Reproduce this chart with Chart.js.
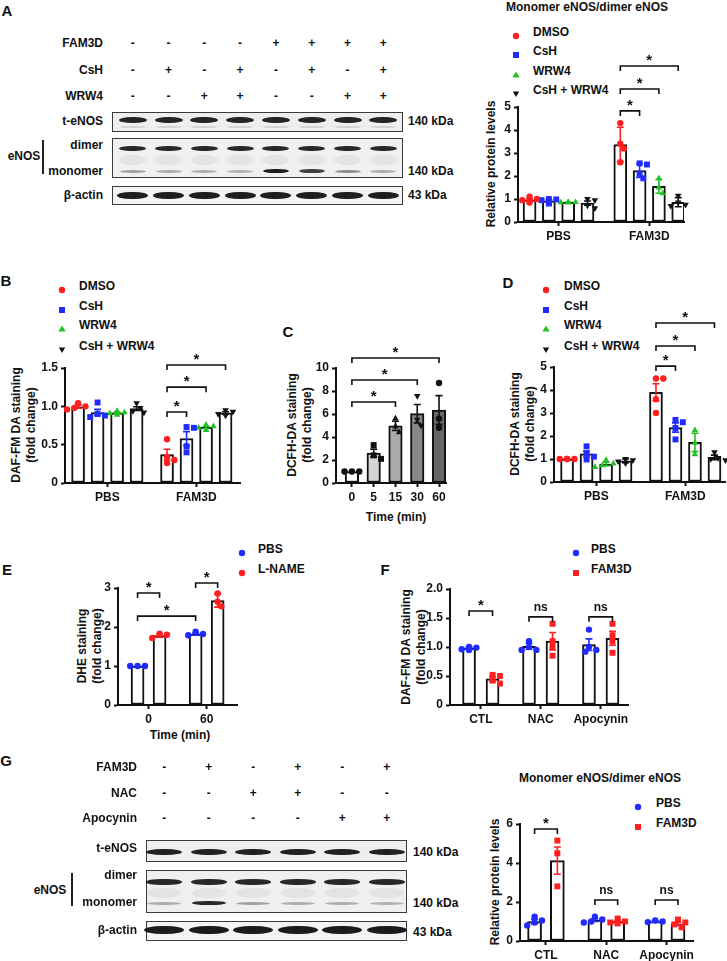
<!DOCTYPE html>
<html>
<head>
<meta charset="utf-8">
<script src="https://cdn.jsdelivr.net/npm/chart.js@4.4.1/dist/chart.umd.min.js"></script>
<style>
  body { margin: 0; background: #fff; }
  #fig { position: relative; width: 727px; height: 961px; overflow: hidden; background: #fff;
         font-family: Arial, 'Liberation Sans', Helvetica, sans-serif; font-weight: bold; color: #111; }
  .t { position: absolute; white-space: nowrap; line-height: 1; }
  .rt { position: absolute; white-space: nowrap; text-align: center; line-height: 15px; }
  canvas { position: absolute; }
  .box { position: absolute; box-sizing: border-box; border: 1.5px solid #3a3a3a; }
  .band { position: absolute; border-radius: 45% / 50%; filter: blur(0.6px); }
</style>
</head>
<body>
<div id="fig"></div>
<script>
// ---------- data ----------

// A  monomer / dimer eNOS
const aGroups = ['PBS', 'FAM3D'];
const aSeries = ['DMSO', 'CsH', 'WRW4', 'CsH + WRW4'];
const aMeans = [[0.96, 3.37], [0.92, 2.24], [0.86, 1.55], [0.82, 0.86]];
const aErr = [[0.05, 0.75], [0.05, 0.3], [0.01, 0.3], [0.09, 0.2]];
const aPts = [
  [[1.1, 1.0, 0.95, 0.9, 0.85], [4.3, 3.4, 3.2, 2.6]],
  [[1.0, 0.98, 0.95, 0.85, 0.8], [2.55, 2.5, 2.1, 1.9]],
  [[0.87, 0.86, 0.85, 0.84], [1.9, 1.5, 1.25]],
  [[1.0, 0.95, 0.72, 0.6], [1.15, 0.85, 0.75, 0.7]]
];
const aLaneFAM3D = ['-', '-', '-', '-', '+', '+', '+', '+'];
const aLaneCsH = ['-', '+', '-', '+', '-', '+', '-', '+'];
const aLaneWRW4 = ['-', '-', '+', '+', '-', '-', '+', '+'];
const aMonomerBand = [0.35, 0.3, 0.3, 0.28, 0.95, 0.8, 0.45, 0.3];

// B  DAF-FM DA
const bGroups = ['PBS', 'FAM3D'];
const bMeans = [[0.995, 0.37], [0.92, 0.58], [0.915, 0.725], [0.97, 0.915]];
const bErr = [[0.02, 0.07], [0.04, 0.09], [0.01, 0.015], [0.025, 0.015]];
const bPts = [
  [[1.04, 1.0, 0.98, 0.96], [0.57, 0.34, 0.3, 0.26]],
  [[1.05, 0.9, 0.88, 0.86], [0.73, 0.72, 0.48, 0.4]],
  [[0.94, 0.92, 0.91, 0.89], [0.76, 0.74, 0.72, 0.69]],
  [[1.04, 0.98, 0.94, 0.92], [0.95, 0.93, 0.9, 0.88]]
];

// C  DCFH-DA time course
const cTimes = ['0', '5', '15', '30', '60'];
const cMeans = [1.0, 2.6, 4.97, 6.03, 6.35];
const cErr = [0, 0.35, 0.4, 0.8, 1.25];
const cPts = [[1, 1, 1], [3.3, 2.4, 2.1], [5.6, 4.9, 4.4], [7.57, 5.5, 5.0], [8.7, 5.6, 4.8]];
const cFills = ['#ffffff', '#d4d4d4', '#ababab', '#888888', '#666666'];

// D  DCFH-DA
const dGroups = ['PBS', 'FAM3D'];
const dMeans = [[1.0, 3.9], [1.22, 2.37], [0.78, 1.72], [0.92, 1.07]];
const dErr = [[0.01, 0.37], [0.13, 0.2], [0.08, 0.4], [0.08, 0.1]];
const dPts = [
  [[1.0, 1.0, 1.0, 1.0], [4.5, 4.5, 3.6, 3.0]],
  [[1.55, 1.25, 1.1, 0.98], [2.7, 2.6, 2.35, 1.85]],
  [[0.95, 0.8, 0.72, 0.65], [2.25, 1.7, 1.2]],
  [[1.0, 0.95, 0.9, 0.82], [1.3, 1.05, 1.0, 0.95]]
];

// E  DHE
const eTimes = ['0', '60'];
const eSeries = ['PBS', 'L-NAME'];
const eMeans = [[1.0, 1.82], [1.78, 2.68]];
const eErr = [[0, 0.03], [0.04, 0.17]];
const ePts = [[[1, 1, 1], [1.88, 1.82, 1.79]], [[1.83, 1.8, 1.72], [2.86, 2.65, 2.53]]];

// F  DAF-FM DA with ROS scavengers
const fGroups = ['CTL', 'NAC', 'Apocynin'];
const fSeries = ['PBS', 'FAM3D'];
const fMeans = [[0.98, 1.01, 1.04], [0.45, 1.1, 1.15]];
const fErr = [[0.02, 0.05, 0.1], [0.04, 0.15, 0.12]];
const fPts = [
  [[1.0, 0.99, 0.96, 0.95], [1.1, 1.0, 0.95, 0.95], [1.3, 1.0, 0.95, 0.92]],
  [[0.52, 0.5, 0.42, 0.37], [1.4, 1.1, 1.0, 0.85], [1.4, 1.2, 1.1, 0.9]]
];

// G  monomer / dimer eNOS with scavengers
const gGroups = ['CTL', 'NAC', 'Apocynin'];
const gMeans = [[1.0, 1.07, 1.0], [4.12, 1.0, 0.88]];
const gErr = [[0.12, 0.07, 0.03], [0.7, 0.06, 0.08]];
const gPts = [
  [[1.25, 1.05, 0.95, 0.8], [1.25, 1.1, 1.0, 0.95], [1.05, 1.0, 0.97]],
  [[5.15, 4.5, 2.8], [1.15, 1.0, 0.95, 0.9], [1.1, 0.95, 0.85, 0.7]]
];
const gLaneFAM3D = ['-', '+', '-', '+', '-', '+'];
const gLaneNAC = ['-', '-', '+', '+', '-', '-'];
const gLaneApo = ['-', '-', '-', '-', '+', '+'];
const gMonomerBand = [0.3, 0.9, 0.35, 0.3, 0.3, 0.28];

// ---------- helpers ----------
const FONT = "Arial, 'Liberation Sans', Helvetica, sans-serif";
const RED = '#ff1f1f', BLUE = '#1f2bff', GREEN = '#22c022', BLACK = '#111111';
const fig = document.getElementById('fig');

function txt(x, y, s, o = {}) {
  const d = document.createElement('div');
  d.className = 't';
  d.textContent = s;
  d.style.left = x + 'px';
  d.style.top = y + 'px';
  d.style.fontSize = (o.size || 12) + 'px';
  const ax = o.align === 'left' ? '0' : o.align === 'right' ? '-100%' : '-50%';
  d.style.transform = `translate(${ax}, -50%)`;
  fig.appendChild(d);
}

function vtitle(x, y, lines) {
  const d = document.createElement('div');
  d.className = 'rt';
  d.innerHTML = lines.join('<br>');
  d.style.left = x + 'px';
  d.style.top = y + 'px';
  d.style.fontSize = '12px';
  d.style.transform = 'translate(-50%, -50%) rotate(-90deg)';
  fig.appendChild(d);
}

function marker(x, y, style, color) {
  const shapes = {
    circle: `<circle cx="5" cy="5" r="3.2" fill="${color}"/>`,
    rect: `<rect x="2" y="2" width="6" height="6" fill="${color}"/>`,
    triangle: `<polygon points="5,1.6 8.6,7.6 1.4,7.6" fill="${color}"/>`,
    triangleDown: `<polygon points="1.8,2.6 8.2,2.6 5,8" fill="${color}"/>`
  };
  const d = document.createElement('div');
  d.style.cssText = `position:absolute;left:${x - 5}px;top:${y - 5}px;width:10px;height:10px;`;
  d.innerHTML = `<svg width="10" height="10">${shapes[style]}</svg>`;
  fig.appendChild(d);
}

function legend(mx, tx, ys, names, styles, colors) {
  names.forEach((n, i) => {
    marker(mx, ys[i], styles[i], colors[i]);
    txt(tx, ys[i], n, { align: 'left' });
  });
}

function box(x0, y0, x1, y1, bg) {
  const d = document.createElement('div');
  d.className = 'box';
  d.style.cssText += `left:${x0}px;top:${y0}px;width:${x1 - x0}px;height:${y1 - y0}px;background:${bg};`;
  fig.appendChild(d);
}

function band(cx, cy, w, h, alpha) {
  const d = document.createElement('div');
  d.className = 'band';
  d.style.cssText += `left:${cx - w / 2}px;top:${cy - h / 2}px;width:${w}px;height:${h}px;background:rgba(18,18,18,${alpha});`;
  fig.appendChild(d);
}

function vline(x, y0, y1) {
  const d = document.createElement('div');
  d.style.cssText = `position:absolute;left:${x - 0.75}px;top:${y0}px;width:1.5px;height:${y1 - y0}px;background:#222;`;
  fig.appendChild(d);
}

// series styles for the 4-treatment panels
const quadStyles = ['circle', 'rect', 'triangle', 'triangleDown'];
const quadColors = [RED, BLUE, GREEN, BLACK];
const duoStyles = ['circle', 'rect'];
const duoColors = [BLUE, RED];

// ---------- Chart.js panel ----------
function panel(cfg) {
  const yW = 34, xH = 40, padTop = 90, padRight = 8;
  const a = cfg.area;
  const canvas = document.createElement('canvas');
  const w = yW + (a.r - a.l) + padRight;
  const h = padTop + (a.b - a.t) + xH;
  canvas.width = w; canvas.height = h;
  canvas.style.left = (a.l - yW) + 'px';
  canvas.style.top = (a.t - padTop) + 'px';
  canvas.style.width = w + 'px';
  canvas.style.height = h + 'px';
  fig.appendChild(canvas);

  const nS = cfg.means.length, nG = cfg.groups.length;
  const xOf = (g, s) => cfg.first + g * cfg.groupStep + s * cfg.barStep;
  const centers = cfg.groups.map((_, g) => (xOf(g, 0) + xOf(g, nS - 1)) / 2);

  const barData = [], barFill = [];
  for (let g = 0; g < nG; g++) {
    for (let s = 0; s < nS; s++) {
      barData.push({ x: xOf(g, s), y: cfg.means[s][g] });
      barFill.push(cfg.fill ? cfg.fill(s, g) : '#ffffff');
    }
  }
  const datasets = [{
    type: 'bar', data: barData, backgroundColor: barFill, borderColor: '#111',
    borderWidth: 2, borderSkipped: false, barThickness: cfg.barW, order: 2
  }];
  for (let s = 0; s < nS; s++) {
    const data = [], styles = [], radii = [], rots = [];
    for (let g = 0; g < nG; g++) {
      cfg.points[s][g].forEach(v => {
        data.push({ x: xOf(g, s), y: v });
        const st = cfg.style(s, g);
        styles.push(st === 'triangleDown' ? 'triangle' : st);
        rots.push(st === 'triangleDown' ? 180 : 0);
        radii.push(st === 'rect' ? 4.2 : st === 'circle' ? 3.2 : 3.8);
      });
    }
    datasets.push({
      type: 'scatter', data, pointStyle: styles, pointRadius: radii, pointRotation: rots,
      backgroundColor: cfg.color(s), borderWidth: 0, clip: false, order: 1
    });
  }

  const swarm = {
    id: 'swarm',
    afterDatasetsUpdate(chart) {
      const r = 3.2;
      chart.data.datasets.forEach((ds, i) => {
        if (ds.type !== 'scatter') return;
        const els = chart.getDatasetMeta(i).data;
        const byX = {};
        els.forEach((el, j) => { const k = ds.data[j].x; (byX[k] = byX[k] || []).push(el); });
        Object.values(byX).forEach(list => {
          const cx = list[0].x;
          const placed = [];
          list.slice().sort((p, q) => p.y - q.y).forEach(el => {
            for (const k of [0, 1, -1, 2, -2, 3, -3]) {
              const x = cx + k * r * 1.15;
              if (placed.every(p => Math.hypot(p.x - x, p.y - el.y) >= r * 1.8)) { el.x = x; break; }
            }
            placed.push({ x: el.x, y: el.y });
          });
        });
      });
    }
  };

  const errBars = {
    id: 'errBars',
    afterDatasetDraw(chart, args) {
      if (args.index !== 0) return;
      const { ctx, scales: { x, y } } = chart;
      ctx.save();
      ctx.lineWidth = 1.6;
      for (let s = 0; s < nS; s++) {
        for (let g = 0; g < nG; g++) {
          const e = cfg.errs[s][g];
          if (!e) continue;
          const px = x.getPixelForValue(xOf(g, s));
          const y0 = y.getPixelForValue(cfg.means[s][g] - e);
          const y1 = y.getPixelForValue(cfg.means[s][g] + e);
          ctx.strokeStyle = cfg.color(s);
          ctx.beginPath();
          ctx.moveTo(px, y0); ctx.lineTo(px, y1);
          ctx.moveTo(px - 3.5, y0); ctx.lineTo(px + 3.5, y0);
          ctx.moveTo(px - 3.5, y1); ctx.lineTo(px + 3.5, y1);
          ctx.stroke();
        }
      }
      ctx.restore();
    }
  };

  const brackets = {
    id: 'brackets',
    afterDraw(chart) {
      const { ctx, scales: { x, y } } = chart;
      ctx.save();
      ctx.strokeStyle = '#111';
      ctx.fillStyle = '#111';
      ctx.lineWidth = 1.6;
      ctx.textAlign = 'center';
      cfg.brackets.forEach(b => {
        const x0 = x.getPixelForValue(xOf(b.a[0], b.a[1]));
        const x1 = x.getPixelForValue(xOf(b.b[0], b.b[1]));
        const py = y.getPixelForValue(b.y);
        ctx.beginPath();
        ctx.moveTo(x0, py + 5); ctx.lineTo(x0, py); ctx.lineTo(x1, py); ctx.lineTo(x1, py + 5);
        ctx.stroke();
        const t = b.t || '*';
        ctx.font = t === '*' ? `bold 15px ${FONT}` : `bold 12px ${FONT}`;
        ctx.fillText(t, (x0 + x1) / 2, t === '*' ? py - 1 : py - 6);
      });
      ctx.restore();
    }
  };

  const tickFont = { family: FONT, size: 12, weight: 'bold' };
  new Chart(canvas, {
    type: 'bar',
    data: { datasets },
    options: {
      responsive: false, animation: false, devicePixelRatio: 1,
      layout: { padding: { top: padTop, right: padRight, left: 0, bottom: 0 } },
      plugins: { legend: { display: false }, tooltip: { enabled: false } },
      scales: {
        x: {
          type: 'linear', min: 0, max: cfg.xMax, offset: false,
          afterFit: s => { s.height = xH; },
          afterBuildTicks: s => { s.ticks = centers.map(v => ({ value: v })); },
          ticks: { autoSkip: false, maxRotation: 0, padding: 3, color: '#111', font: tickFont,
                   callback: (v, i) => cfg.groups[i] },
          grid: { display: true, drawOnChartArea: false, drawTicks: true, tickLength: 4,
                  tickWidth: 2, tickColor: '#111', offset: false },
          border: { display: true, color: '#111', width: 2 }
        },
        y: {
          type: 'linear', min: 0, max: cfg.yMax,
          afterFit: s => { s.width = yW; },
          ticks: { stepSize: cfg.yStep, padding: 3, color: '#111', font: tickFont,
                   callback: v => (v === 0 ? '0' : cfg.yDec ? v.toFixed(cfg.yDec) : String(v)) },
          grid: { display: true, drawOnChartArea: false, drawTicks: true, tickLength: 4,
                  tickWidth: 2, tickColor: '#111' },
          border: { display: true, color: '#111', width: 2 }
        }
      }
    },
    plugins: [swarm, errBars, brackets]
  });
}

// ---------- panel A ----------
txt(7, 10, 'A', { size: 15 });
[['FAM3D', aLaneFAM3D, 43], ['CsH', aLaneCsH, 70], ['WRW4', aLaneWRW4, 96]].forEach(([lab, signs, y]) => {
  txt(103, y, lab, { align: 'right' });
  signs.forEach((s, i) => txt(132.7 + i * 35.8, y, s));
});
box(112, 112, 403, 132, '#eeeeee');
box(112, 138, 403, 178, '#f0f0f0');
box(112, 186, 403, 205, '#f3f3f3');
for (let i = 0; i < 8; i++) {
  const cx = 132.7 + i * 35.8;
  band(cx, 120, 28, 6, 0.92);
  band(cx, 127, 26, 2, 0.12);
  band(cx, 148, 27, 5, 0.9);
  band(cx, 160, 27, 10, 0.05);
  band(cx, 171, 26, aMonomerBand[i] > 0.6 ? 4 : 3, aMonomerBand[i]);
  band(cx, 195, 31, 7, 0.95);
}
txt(103, 121, 't-eNOS', { align: 'right' });
txt(103, 145, 'dimer', { align: 'right' });
txt(103, 171, 'monomer', { align: 'right' });
txt(103, 195, 'β-actin', { align: 'right' });
txt(24, 156, 'eNOS');
vline(43, 140, 174);
txt(408, 121, '140 kDa', { align: 'left' });
txt(408, 171, '140 kDa', { align: 'left' });
txt(408, 195, '43 kDa', { align: 'left' });

txt(587, 7, 'Monomer eNOS/dimer eNOS');
legend(516, 533, [32, 51, 71, 90], aSeries, quadStyles, quadColors);
vtitle(491, 164, ['Relative protein levels']);
panel({
  area: { l: 518, r: 684, t: 107, b: 222 }, yMax: 5, yStep: 1,
  xMax: 8.6, first: 0.6, groupStep: 4.7, barStep: 1, barW: 13,
  groups: aGroups, means: aMeans, errs: aErr, points: aPts,
  style: s => quadStyles[s], color: s => quadColors[s],
  brackets: [{ a: [1, 0], b: [1, 1], y: 4.83 }, { a: [1, 0], b: [1, 2], y: 5.78 }, { a: [1, 0], b: [1, 3], y: 6.78 }]
});

// ---------- panel B ----------
txt(6, 280, 'B', { size: 15 });
legend(62, 79, [286, 306, 325, 346], aSeries, quadStyles, quadColors);
vtitle(23.5, 425, ['DAF-FM DA staining', '(fold change)']);
panel({
  area: { l: 65, r: 240, t: 368, b: 483 }, yMax: 1.5, yStep: 0.5, yDec: 1,
  xMax: 8.97, first: 0.67, groupStep: 4.56, barStep: 1, barW: 13,
  groups: bGroups, means: bMeans, errs: bErr, points: bPts,
  style: s => quadStyles[s], color: s => quadColors[s],
  brackets: [{ a: [1, 0], b: [1, 1], y: 0.926 }, { a: [1, 0], b: [1, 2], y: 1.25 }, { a: [1, 0], b: [1, 3], y: 1.54 }]
});

// ---------- panel C ----------
txt(288, 331, 'C', { size: 15 });
vtitle(299.5, 425, ['DCFH-DA staining', '(fold change)']);
txt(396, 517, 'Time (min)');
const cStyles = ['circle', 'rect', 'triangle', 'triangleDown', 'circle'];
panel({
  area: { l: 336, r: 446, t: 368, b: 483 }, yMax: 10, yStep: 2,
  xMax: 5.05, first: 0.73, groupStep: 1, barStep: 1, barW: 13.5,
  groups: cTimes, means: [cMeans], errs: [cErr], points: [cPts],
  fill: (s, g) => cFills[g],
  style: (s, g) => cStyles[g], color: () => BLACK,
  brackets: [{ a: [0, 0], b: [2, 0], y: 7.04 }, { a: [0, 0], b: [3, 0], y: 8.96 }, { a: [0, 0], b: [4, 0], y: 10.87 }]
});

// ---------- panel D ----------
txt(508, 282, 'D', { size: 15 });
legend(546, 564, [286, 306, 325, 346], aSeries, quadStyles, quadColors);
vtitle(522.5, 424, ['DCFH-DA staining', '(fold change)']);
panel({
  area: { l: 554, r: 725, t: 367, b: 482 }, yMax: 5, yStep: 1,
  xMax: 8.77, first: 0.67, groupStep: 4.56, barStep: 1, barW: 13,
  groups: dGroups, means: dMeans, errs: dErr, points: dPts,
  style: s => quadStyles[s], color: s => quadColors[s],
  brackets: [{ a: [1, 0], b: [1, 1], y: 5.04 }, { a: [1, 0], b: [1, 2], y: 5.91 }, { a: [1, 0], b: [1, 3], y: 6.91 }]
});

// ---------- panel E ----------
txt(7, 569, 'E', { size: 15 });
legend(242, 258, [549, 569], eSeries, ['circle', 'circle'], [BLUE, RED]);
vtitle(89.5, 646, ['DHE staining', '(fold change)']);
txt(180, 735, 'Time (min)');
panel({
  area: { l: 118, r: 237, t: 588, b: 705 }, yMax: 3, yStep: 1,
  xMax: 5.41, first: 0.89, groupStep: 2.64, barStep: 1, barW: 13,
  groups: eTimes, means: eMeans, errs: eErr, points: ePts,
  style: () => 'circle', color: s => [BLUE, RED][s],
  brackets: [{ a: [0, 0], b: [0, 1], y: 2.87 }, { a: [0, 0], b: [1, 0], y: 2.28 }, { a: [1, 0], b: [1, 1], y: 3.13 }]
});

// ---------- panel F ----------
txt(385, 569, 'F', { size: 15 });
legend(576, 591, [549, 569], fSeries, duoStyles, duoColors);
vtitle(413.5, 647, ['DAF-FM DA staining', '(fold change)']);
panel({
  area: { l: 450, r: 628, t: 589, b: 705 }, yMax: 2, yStep: 0.5, yDec: 1,
  xMax: 7.57, first: 0.81, groupStep: 2.55, barStep: 1, barW: 13,
  groups: fGroups, means: fMeans, errs: fErr, points: fPts,
  style: s => duoStyles[s], color: s => duoColors[s],
  brackets: [{ a: [0, 0], b: [0, 1], y: 1.62 }, { a: [1, 0], b: [1, 1], y: 1.52, t: 'ns' }, { a: [2, 0], b: [2, 1], y: 1.52, t: 'ns' }]
});

// ---------- panel G ----------
txt(6, 760, 'G', { size: 15 });
[['FAM3D', gLaneFAM3D, 767], ['NAC', gLaneNAC, 793], ['Apocynin', gLaneApo, 818]].forEach(([lab, signs, y]) => {
  txt(137, y, lab, { align: 'right' });
  signs.forEach((s, i) => txt(164.3 + i * 44.5, y, s));
});
box(146, 840, 407, 862, '#eeeeee');
box(146, 870, 407, 913, '#efefef');
box(146, 921, 407, 941, '#f3f3f3');
for (let i = 0; i < 6; i++) {
  const cx = 164.3 + i * 44.5;
  band(cx, 852, 36, 6, 0.93);
  band(cx, 882, 36, 5.5, 0.9);
  band(cx, 893, 34, 10, 0.05);
  band(cx, 903, 34, gMonomerBand[i] > 0.6 ? 4 : 3, gMonomerBand[i]);
  band(cx, 930, 40, 8, 0.96);
}
txt(137, 848, 't-eNOS', { align: 'right' });
txt(137, 875, 'dimer', { align: 'right' });
txt(137, 902, 'monomer', { align: 'right' });
txt(137, 930, 'β-actin', { align: 'right' });
txt(50, 890, 'eNOS');
vline(72, 873, 906);
txt(413, 852, '140 kDa', { align: 'left' });
txt(413, 903, '140 kDa', { align: 'left' });
txt(413, 932, '43 kDa', { align: 'left' });

txt(600, 778, 'Monomer eNOS/dimer eNOS');
legend(638, 656, [803, 823], fSeries, duoStyles, duoColors);
vtitle(495, 882, ['Relative protein levels']);
panel({
  area: { l: 520, r: 693, t: 824, b: 941 }, yMax: 6, yStep: 2,
  xMax: 7.6, first: 0.64, groupStep: 2.65, barStep: 1, barW: 14,
  groups: gGroups, means: gMeans, errs: gErr, points: gPts,
  style: s => duoStyles[s], color: s => duoColors[s],
  brackets: [{ a: [0, 0], b: [0, 1], y: 5.74 }, { a: [1, 0], b: [1, 1], y: 2.1, t: 'ns' }, { a: [2, 0], b: [2, 1], y: 2.1, t: 'ns' }]
});
</script>
</body>
</html>
